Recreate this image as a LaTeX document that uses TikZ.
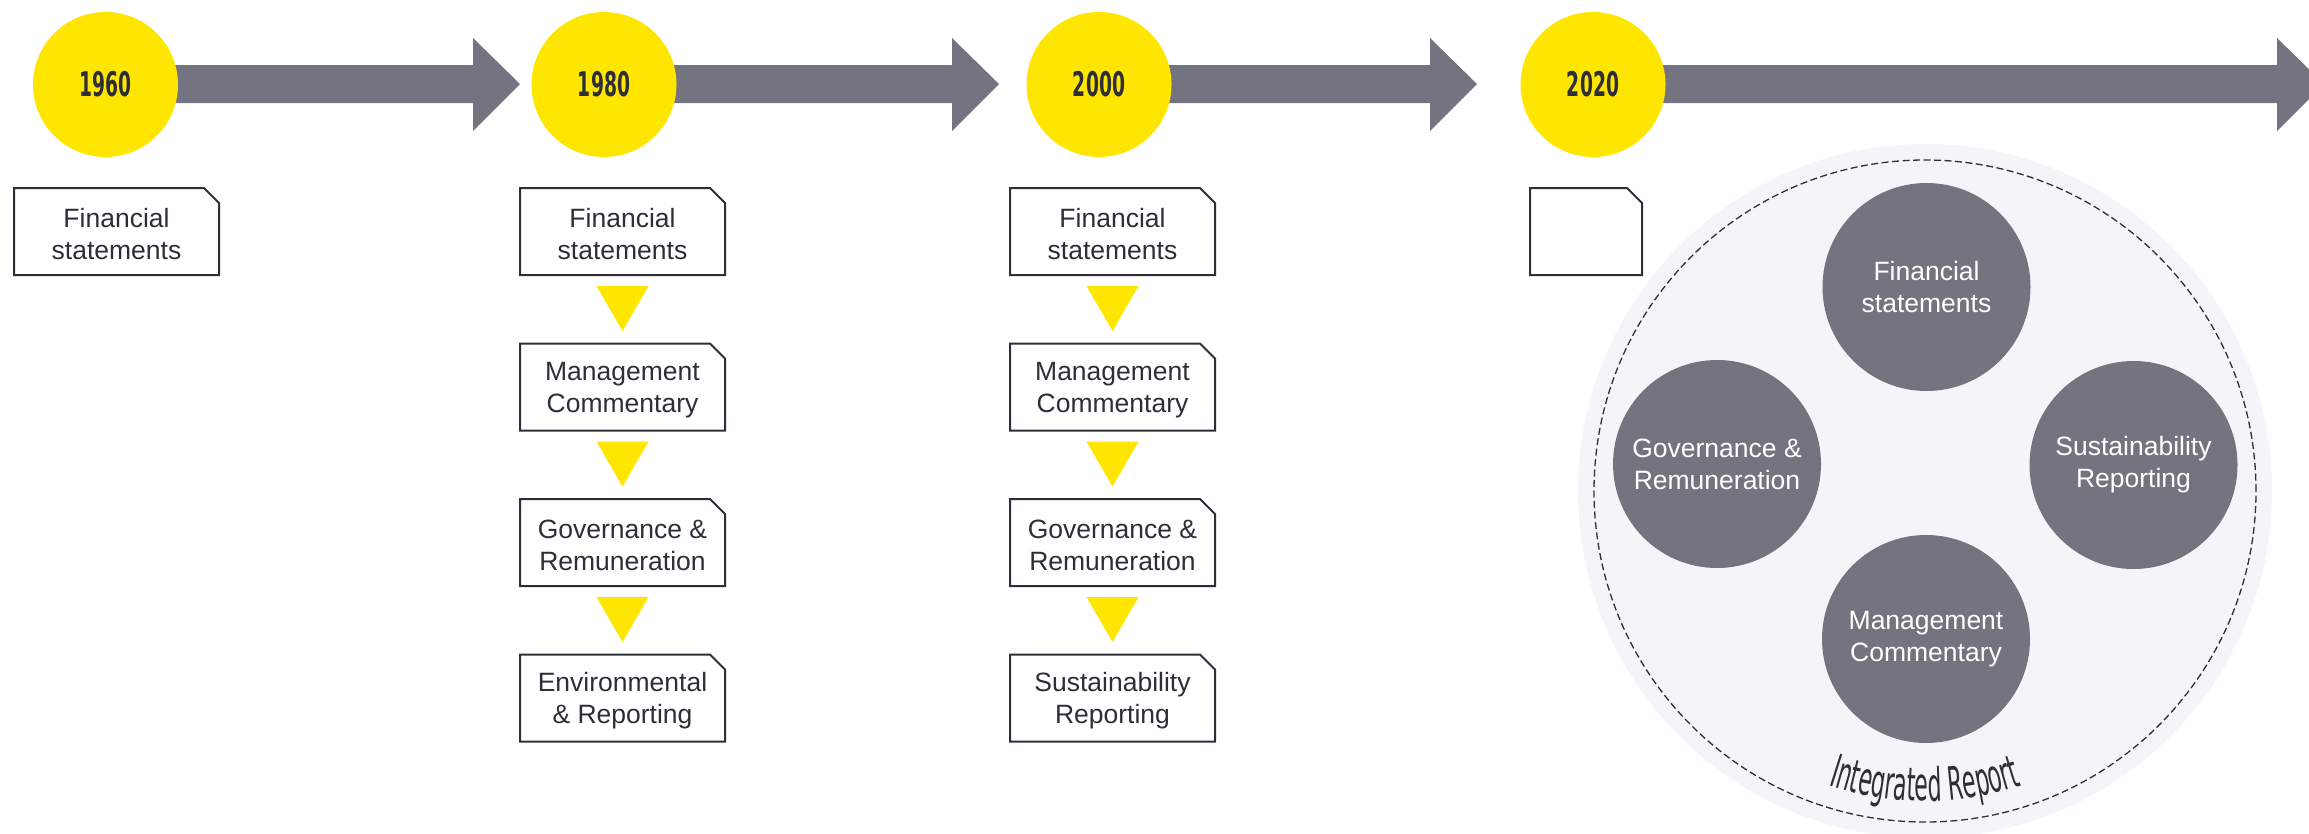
\documentclass[tikz,border=0pt]{standalone}
\usepackage{fontspec}
\setmainfont{Liberation Sans}
\newfontfamily\yearfont[FakeStretch=0.55]{DejaVu Sans}
\newfontfamily\irfont[FakeStretch=0.48]{DejaVu Sans}
\usetikzlibrary{decorations.text}
\definecolor{eyyellow}{HTML}{FFE600}
\definecolor{eygray}{HTML}{747480}
\definecolor{eydark}{HTML}{2E2E38}
\definecolor{eylight}{HTML}{F5F5F9}
\newcommand\docbox[4]{%
  \node[boxshape] (#1) at (#2+102.5,#3+43.5) {};
  \draw[boxline] (#1.south west) -- (#1.north west) -- ([xshift=-15pt]#1.north east)
     -- ([yshift=-15pt]#1.north east) -- (#1.south east) -- cycle;
  \node[boxlabel] (#1t) at ([yshift=-3pt]#1.center) {#4};}
\newcommand\flowdown[1]{%
  \fill[flowtri] ([xshift=-26pt,yshift=-11pt]#1.south) -- ([xshift=26pt,yshift=-11pt]#1.south)
     -- ([yshift=-56pt]#1.south) -- cycle;}
\begin{document}
\begin{tikzpicture}[x=1pt,y=-1pt,
  yearcircle/.style={circle, fill=eyyellow, minimum size=145pt, inner sep=0pt,
     font=\yearfont\bfseries\fontsize{34}{34}\selectfont, text=eydark},
  timearrow/.style={fill=eygray},
  boxshape/.style={rectangle, minimum width=205pt, minimum height=87pt, inner sep=0pt,
     outer sep=0pt},
  boxlabel/.style={align=center, inner sep=0pt, font=\fontsize{26.5}{32}\selectfont, text=eydark},
  boxline/.style={draw=eydark, line width=2pt, line join=miter},
  flowtri/.style={fill=eyyellow},
  topic/.style={circle, fill=eygray, minimum size=208pt, inner sep=0pt, align=center,
     font=\fontsize{26.5}{32}\selectfont, text=white},
  ]
\useasboundingbox (0,0) rectangle (2309,833);

% timeline arrows
\fill[timearrow] (105,65) -- (473,65) -- (473,38) -- (520,84) -- (473,131) -- (473,103) -- (105,103) -- cycle;
\fill[timearrow] (604,65) -- (952,65) -- (952,38) -- (999,84) -- (952,131) -- (952,103) -- (604,103) -- cycle;
\fill[timearrow] (1099,65) -- (1430,65) -- (1430,38) -- (1477,84) -- (1430,131) -- (1430,103) -- (1099,103) -- cycle;
\fill[timearrow] (1593,65) -- (2277,65) -- (2277,38) -- (2324,84) -- (2277,131) -- (2277,103) -- (1593,103) -- cycle;

% year circles
\node[yearcircle] (y1960) at (105.5,84.5) {1960};
\node[yearcircle] (y1980) at (604,84.5) {1980};
\node[yearcircle] (y2000) at (1099,84.5) {2000};
\node[yearcircle] (y2020) at (1593,84.5) {2020};

% 1960
\docbox{a1}{14}{188}{Financial\\statements}

% 1980
\docbox{b1}{520}{188}{Financial\\statements}
\docbox{b2}{520}{343.5}{Management\\Commentary}
\docbox{b3}{520}{499}{Governance \&\\Remuneration}
\docbox{b4}{520}{654.5}{Environmental\\\& Reporting}
\flowdown{b1}\flowdown{b2}\flowdown{b3}

% 2000
\docbox{c1}{1010}{188}{Financial\\statements}
\docbox{c2}{1010}{343.5}{Management\\Commentary}
\docbox{c3}{1010}{499}{Governance \&\\Remuneration}
\docbox{c4}{1010}{654.5}{Sustainability\\Reporting}
\flowdown{c1}\flowdown{c2}\flowdown{c3}

% 2020
\node[boxshape, minimum width=112pt] (d1) at (1586,231.5) {};
\draw[boxline] (d1.south west) -- (d1.north west) -- ([xshift=-15pt]d1.north east)
   -- ([yshift=-15pt]d1.north east) -- (d1.south east) -- cycle;

% integrated report
\node[circle, fill=eylight, minimum size=694pt, inner sep=0pt] (ir) at (1925,491) {};
\node[circle, draw=eydark, dash pattern=on 7pt off 3.5pt, line width=1.3pt,
      minimum size=662pt, inner sep=0pt] (irb) at (1925,491) {};
\node[topic] (tfin) at (1926.5,287) {Financial\\statements};
\node[topic] (tgov) at (1717,464) {Governance \&\\Remuneration};
\node[topic] (tsus) at (2133.5,465) {Sustainability\\Reporting};
\node[topic] (tman) at (1926,639) {Management\\Commentary};
\path[decorate, decoration={text along path, text color=eydark, text align=center,
   text={|\irfont\fontsize{46}{46}\selectfont|Integrated Report}}]
   (ir.center) ++(225:310pt) arc[start angle=225, end angle=315, radius=310pt];
\end{tikzpicture}
\end{document}
